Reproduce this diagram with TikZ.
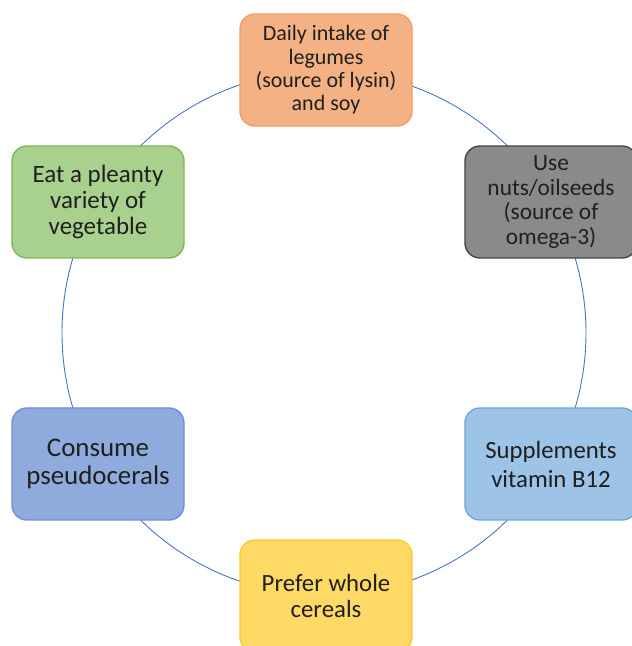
\documentclass[tikz,border=0pt]{standalone}
\usepackage{fontspec}
\setmainfont{Carlito}

\definecolor{ringblue}{HTML}{4472C4}
\definecolor{orangefill}{HTML}{F4B183}
\definecolor{orangeline}{HTML}{F19C65}
\definecolor{grayfill}{HTML}{8A8A8A}
\definecolor{grayline}{HTML}{454545}
\definecolor{greenfill}{HTML}{A9D18E}
\definecolor{greenline}{HTML}{7FB55A}
\definecolor{bluefill}{HTML}{8FAADC}
\definecolor{blueline}{HTML}{6F8FCF}
\definecolor{skyfill}{HTML}{9DC3E6}
\definecolor{skyline}{HTML}{6FA7DA}
\definecolor{yellowfill}{HTML}{FFD966}
\definecolor{yellowline}{HTML}{FFC833}

\begin{document}
\begin{tikzpicture}[
    pill/.style={rectangle,rounded corners=0.3cm,line width=0.8pt,
        minimum width=3.44cm,minimum height=2.24cm,align=center,
        text=black!88,inner sep=2pt},
    legume/.style={pill,fill=orangefill,draw=orangeline},
    nut/.style={pill,fill=grayfill,draw=grayline},
    veg/.style={pill,fill=greenfill,draw=greenline},
    pseudo/.style={pill,fill=bluefill,draw=blueline},
    vitb/.style={pill,fill=skyfill,draw=skyline},
    cereal/.style={pill,fill=yellowfill,draw=yellowline}]
    \useasboundingbox (0,0) rectangle (12.64,12.92);

    % ring behind the six boxes
    \coordinate (c) at (6.48,6.26);
    \draw[ringblue,line width=0.5pt] (c) circle (5.24);

    \node[legume,font=\fontsize{12.5}{13.3}\selectfont] (legumes) at (6.52,11.52)
        {Daily intake of\\legumes\\(source of lysin)\\and soy};
    \node[nut,font=\fontsize{13.3}{14.2}\selectfont] (nuts) at (11.02,8.88)
        {Use\\nuts/oilseeds\\(source of\\omega-3)};
    \node[veg,font=\fontsize{14.2}{14.6}\selectfont] (vegetable) at (1.96,8.88)
        {Eat a pleanty\\variety of\\vegetable};
    \node[pseudo,font=\fontsize{15.3}{15.9}\selectfont] (pseudocerals) at (1.96,3.64)
        {Consume\\pseudocerals};
    \node[vitb,font=\fontsize{14.1}{16.5}\selectfont] (vitamin) at (11.02,3.64)
        {Supplements\\vitamin B12};
    \node[cereal,font=\fontsize{14.1}{15.1}\selectfont] (cereals) at (6.52,1.00)
        {Prefer whole\\cereals};

\end{tikzpicture}
\end{document}
